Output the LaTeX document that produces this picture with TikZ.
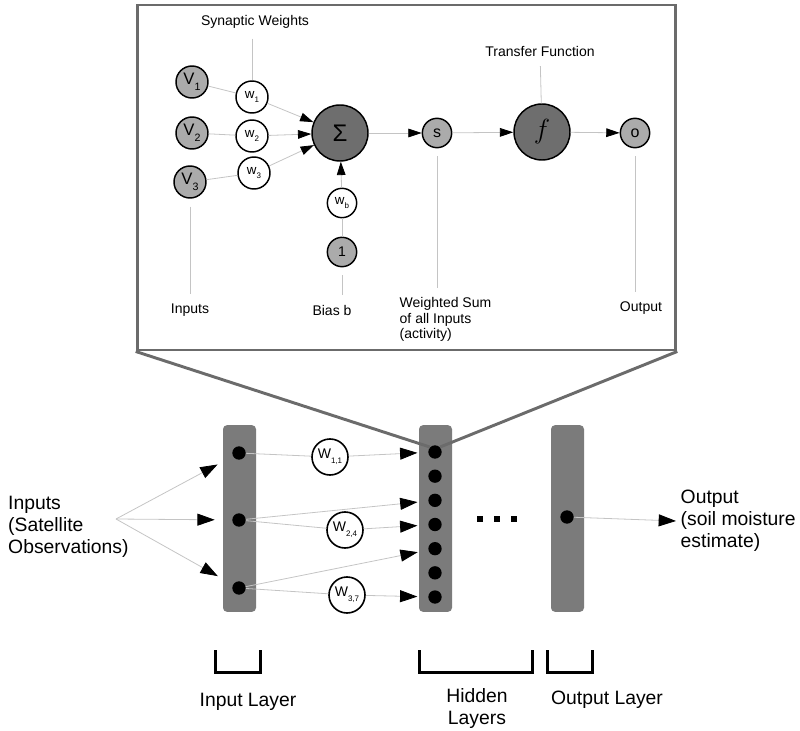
\documentclass[tikz,border=0pt]{standalone}
\usepackage{fontspec}
\setmainfont{Liberation Sans}
\usetikzlibrary{arrows.meta}

\definecolor{lightunit}{HTML}{ABABAB}
\definecolor{darkunit}{HTML}{6E6E6E}
\definecolor{barfill}{HTML}{7B7B7B}
\definecolor{framegray}{HTML}{6B6B6B}
\definecolor{wiregray}{HTML}{C4C4C4}

% letter with a lowered index, as in the circles
\newcommand{\lowsub}[3][6]{#2\raisebox{-0.7ex}{\fontsize{#1}{#1}\selectfont #3}}

\tikzset{
  invar/.style={circle, draw, line width=1.1pt, fill=lightunit, minimum size=24pt, inner sep=0pt, font=\fontsize{12.5}{12.5}\selectfont},
  weight/.style={circle, draw, line width=1.1pt, fill=white, minimum size=24pt, inner sep=0pt, font=\fontsize{10}{10}\selectfont},
  smallunit/.style={circle, draw, line width=1.1pt, fill=lightunit, minimum size=22pt, inner sep=0pt, font=\fontsize{12}{12}\selectfont},
  bigunit/.style={circle, draw, line width=1.1pt, fill=darkunit, minimum size=42pt, inner sep=0pt},
  bigweight/.style={circle, draw, line width=1.2pt, fill=white, minimum size=27pt, inner sep=0pt, font=\fontsize{10.5}{10.5}\selectfont},
  layerbar/.style={rectangle, fill=barfill, rounded corners=3pt, minimum width=24.75pt, minimum height=140pt, inner sep=0pt},
  neuron/.style={circle, fill=black, minimum size=10pt, inner sep=0pt},
  wire/.style={draw=wiregray, line width=0.6pt},
  tip/.style={-{Triangle[length=10pt, width=6.5pt, color=black]}},
  bigtip/.style={-{Triangle[length=13pt, width=9pt, color=black]}},
  lblwire/.style={wire, shorten <=6pt, shorten >=4pt},
  lbl/.style={font=\fontsize{10.5}{11.6}\selectfont},
  biglbl/.style={font=\fontsize{14.5}{16.5}\selectfont},
  zoomline/.style={draw=framegray, line width=2.2pt},
  bracket/.style={draw=black, line width=2.25pt},
}

\begin{document}
\begin{tikzpicture}[x=0.75pt, y=-0.75pt]
\useasboundingbox (0,0) rectangle (800,731);

% ---- zoomed single neuron ----
\node[draw=framegray, line width=2.2pt, minimum width=404pt, minimum height=258.75pt, inner sep=0pt] (frame) at (406.5,177.5) {};

\node[invar] (v1) at (192,82) {\lowsub[8]{V}{1}};
\node[invar] (v2) at (192,133) {\lowsub[8]{V}{2}};
\node[invar] (v3) at (190,182) {\lowsub[8]{V}{3}};
\node[weight] (w1) at (252,97) {\lowsub{w}{1}};
\node[weight] (w2) at (252,136) {\lowsub{w}{2}};
\node[weight] (w3) at (254,173) {\lowsub{w}{3}};
\node[bigunit, font=\fontsize{18}{18}\selectfont] (sum) at (340,133) {Σ};
\node[weight, minimum size=22pt] (wb) at (342,203) {\lowsub{w}{b}};
\node[smallunit, font=\fontsize{10.5}{10.5}\selectfont] (bias) at (342,252) {1};
\node[smallunit] (s) at (437,133) {s};
\node[bigunit, font=\fontsize{22}{22}\selectfont] (f) at (542,132) {$f$};
\node[smallunit] (o) at (635,133) {o};

\node[lbl] (synlbl) at (255,22) {Synaptic Weights};
\node[lbl] (tflbl) at (540,51) {Transfer Function};
\node[lbl] (inlbl) at (190,310) {Inputs};
\node[lbl] (biaslbl) at (332,310) {Bias b};
\node[lbl, align=left, anchor=north west] (sumlbl) at (395,293) {Weighted Sum\\of all Inputs\\(activity)};
\node[lbl] (outlbl) at (641,308) {Output};

\draw[wire] (v1) -- (w1);
\draw[wire] (v2) -- (w2);
\draw[wire] (v3) -- (w3);
\draw[wire, tip] (w1) -- (sum);
\draw[wire, tip] (w2) -- (sum);
\draw[wire, tip] (w3) -- (sum);
\draw[wire] (bias) -- (wb);
\draw[wire, tip] (wb) -- (sum);
\draw[wire, tip] (sum) -- (s);
\draw[wire, tip] (s) -- (f);
\draw[wire, tip] (f) -- (o);

\draw[wire, shorten <=4pt] (w1 |- synlbl.south) -- (w1);
\draw[wire, shorten <=4pt] (tflbl) -- (f);
\draw[lblwire] (v3) -- (v3 |- inlbl.north);
\draw[lblwire] (bias) -- (bias |- biaslbl.north);
\draw[lblwire] (s) -- (s |- sumlbl.north);
\draw[lblwire] (o) -- (o |- outlbl.north);

% ---- network ----
\node[layerbar] (inbar) at (239.5,518.5) {};
\node[layerbar] (hidbar) at (435.5,518.5) {};
\node[layerbar] (outbar) at (567.5,518.5) {};

\node[neuron] (i1) at (239,453) {};
\node[neuron] (i2) at (239,520) {};
\node[neuron] (i3) at (239,588) {};
\foreach \k in {1,...,7}
  \node[neuron] (h\k) at (435,{452+24.17*(\k-1)}) {};
\node[neuron] (outdot) at (567,517) {};

\draw[zoomline] (frame.south west) -- (h1.north west);
\draw[zoomline] (frame.south east) -- (h1.north east);

\node[biglbl, align=left, anchor=west] (inputs) at (3.5,527) {Inputs\\(Satellite\\Observations)};
\node[biglbl, align=left, anchor=west] (output) at (676,521) {Output\\(soil moisture\\estimate)};
\coordinate (src) at (116,519);

\draw[wire, bigtip, shorten >=13pt] (src) -- (i1);
\draw[wire, bigtip, shorten >=13pt] (src) -- (i2);
\draw[wire, bigtip, shorten >=13pt] (src) -- (i3);

\node[bigweight] (w11) at (330,457) {\lowsub{W}{1,1}};
\node[bigweight] (w24) at (345,530) {\lowsub{W}{2,4}};
\node[bigweight] (w37) at (347,595) {\lowsub{W}{3,7}};

\draw[wire] (i1) -- (w11);
\draw[wire, bigtip, shorten >=8pt] (w11) -- (h1);
\draw[wire, bigtip, shorten >=8pt] (i2) -- (h3);
\draw[wire] (i2) -- (w24);
\draw[wire, bigtip, shorten >=8pt] (w24) -- (h4);
\draw[wire, bigtip, shorten >=8pt] (i3) -- (h5);
\draw[wire] (i3) -- (w37);
\draw[wire, bigtip, shorten >=8pt] (w37) -- (h7);
\draw[wire, bigtip] (outdot) -- (output.west);

% more hidden layers
\foreach \x in {480,497,514}
  \fill (\x-2.6,516.4) rectangle (\x+2.6,521.6);

% layer brackets
\draw[bracket] (215,650) -- (215,672) -- (260,672) -- (260,650);
\draw[bracket] (419,650) -- (419,672) -- (532,672) -- (532,650);
\draw[bracket] (547,650) -- (547,672) -- (592,672) -- (592,650);

\node[biglbl] (inlayer) at (248,702) {Input Layer};
\node[biglbl, align=center] (hidlayer) at (477,708) {Hidden\\Layers};
\node[biglbl] (outlayer) at (607,700) {Output Layer};
\end{tikzpicture}
\end{document}
